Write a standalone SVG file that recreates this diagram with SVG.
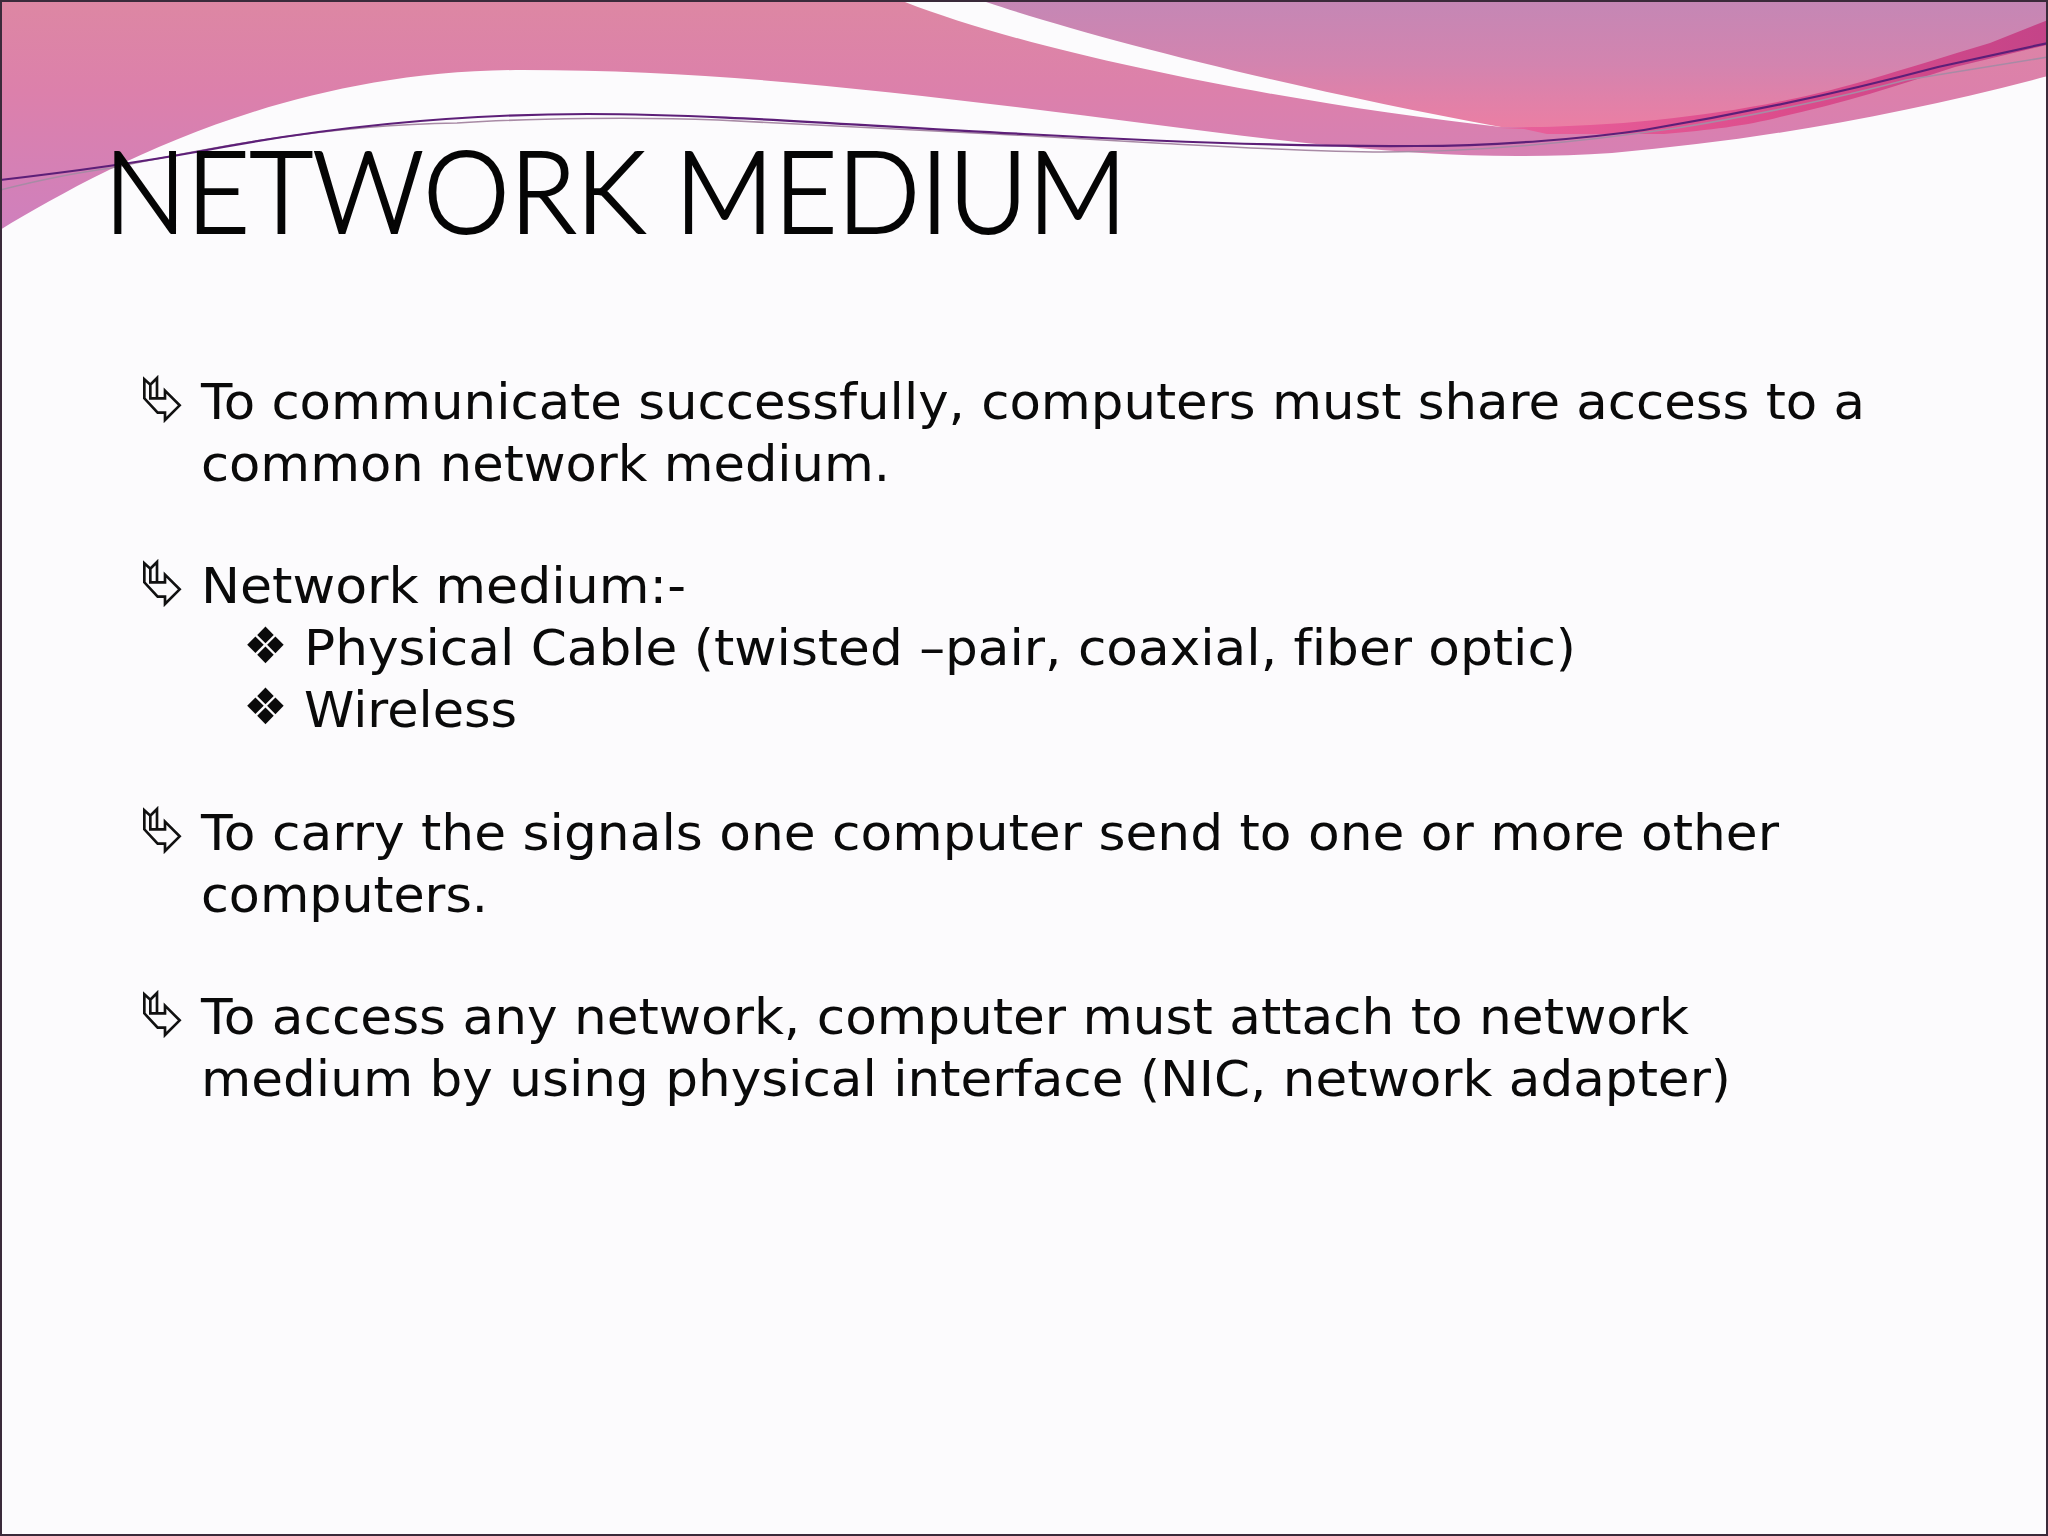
<svg xmlns="http://www.w3.org/2000/svg" width="2048" height="1536" viewBox="0 0 2048 1536">
<style>
.body{font-family:"DejaVu Sans","Liberation Sans",sans-serif;font-size:50px;fill:#0a0a0a;font-variant-ligatures:none}
.title{font-family:Lato,"Liberation Sans",sans-serif;font-size:114px;font-weight:300;fill:#050505;stroke:#050505;stroke-width:2.2}
.arrow{fill:none;stroke:#111;stroke-width:8;stroke-linejoin:miter}
</style>
<defs>
<linearGradient id="gMid" gradientUnits="userSpaceOnUse" x1="0" y1="0" x2="0" y2="230"><stop offset="0" stop-color="#dd87a3"/><stop offset=".4" stop-color="#dc80ab"/><stop offset="1" stop-color="#cf80bd"/></linearGradient>
<linearGradient id="gLil" gradientUnits="userSpaceOnUse" x1="0" y1="0" x2="0" y2="130"><stop offset="0" stop-color="#c487b5"/><stop offset=".5" stop-color="#d384af"/><stop offset="1" stop-color="#ec7ea3"/></linearGradient>
<linearGradient id="gBand" gradientUnits="userSpaceOnUse" x1="1520" y1="0" x2="2048" y2="0"><stop offset="0" stop-color="#e8609a"/><stop offset=".5" stop-color="#dc4c8c"/><stop offset="1" stop-color="#c44488"/></linearGradient>
<g id="bullet"><path class="arrow" transform="scale(.3333)" d="M28,28 L46,44 L66,24 L66,85 L90,85 L90,62 L134,106 L90,150 L90,128 L68,128 L28,85 Z M46,44 L46,85 L66,85"/></g>
</defs>
<rect id="background" width="2048" height="1536" fill="#fcfbfd"/>
<g id="waves">
<path fill="url(#gMid)" d="M0,2 L905,2 C1040,55 1300,105 1501,127 L2048,2 L2048,76 C1900,115 1760,140 1612,153 C1550,157 1485,157 1422,153 C1290,145 1150,123 1024,108 C860,88 700,70 523,70 C280,70 100,170 0,230 Z"/>
<path fill="url(#gBand)" d="M1524,129 L1547,134 L1664,134 C1710,130 1745,126 1780,117 C1840,104 1900,85 1955,67 L2047,45 L2048,18 L1990,40 C1900,68 1840,88 1787,98 C1700,116 1600,126 1500,128 Z"/>
<path fill="url(#gLil)" d="M986,2 C1100,40 1300,90 1501,127 C1600,128 1700,118 1787,100 C1840,90 1900,70 1990,43 L2048,20 L2048,2 Z"/>
<path fill="none" stroke="#a88aa5" stroke-width="1.6" d="M0,190 C40,180 80,172 111,168 C200,150 320,125 457,123 C530,118 640,117 718,120 C800,123 1000,134 1155,143 C1250,148 1320,152 1383,152 C1480,152 1580,142 1677,128 C1740,118 1830,100 1906,80 L2048,57"/>
<path fill="none" stroke="#5d1f78" stroke-width="2.2" d="M0,180 C60,173 130,164 196,152 C320,128 450,114 588,114 C720,114 860,126 1024,134 C1150,141 1280,147 1416,146 C1500,146 1590,138 1644,130 C1740,114 1840,93 1938,67 L2048,43"/>
</g>
<text id="title" class="title" x="104" y="233" textLength="1023" lengthAdjust="spacingAndGlyphs">NETWORK MEDIUM</text>
<g id="list">
<use href="#bullet" x="135" y="370"/>
<text class="body" x="201" y="419" textLength="1664" lengthAdjust="spacingAndGlyphs">To communicate successfully, computers must share access to a</text>
<text class="body" x="201" y="481" textLength="689" lengthAdjust="spacingAndGlyphs">common network medium.</text>
<use href="#bullet" x="135" y="554"/>
<text class="body" x="201" y="603" textLength="485" lengthAdjust="spacingAndGlyphs">Network medium:-</text>
<text class="body" x="243" y="663" font-size="44">❖</text>
<text class="body" x="304" y="665" textLength="1272" lengthAdjust="spacingAndGlyphs">Physical Cable (twisted –pair, coaxial, fiber optic)</text>
<text class="body" x="243" y="724" font-size="44">❖</text>
<text class="body" x="304" y="727" textLength="213" lengthAdjust="spacingAndGlyphs">Wireless</text>
<use href="#bullet" x="135" y="801"/>
<text class="body" x="201" y="850" textLength="1578" lengthAdjust="spacingAndGlyphs">To carry the signals one computer send to one or more other</text>
<text class="body" x="201" y="912" textLength="287" lengthAdjust="spacingAndGlyphs">computers.</text>
<use href="#bullet" x="135" y="985"/>
<text class="body" x="201" y="1034" textLength="1488" lengthAdjust="spacingAndGlyphs">To access any network, computer must attach to network</text>
<text class="body" x="201" y="1096" textLength="1530" lengthAdjust="spacingAndGlyphs">medium by using physical interface (NIC, network adapter)</text>
</g>
<rect id="frame" x="1" y="1" width="2046" height="1534" fill="none" stroke="#3a2a3a" stroke-width="2"/>
</svg>
